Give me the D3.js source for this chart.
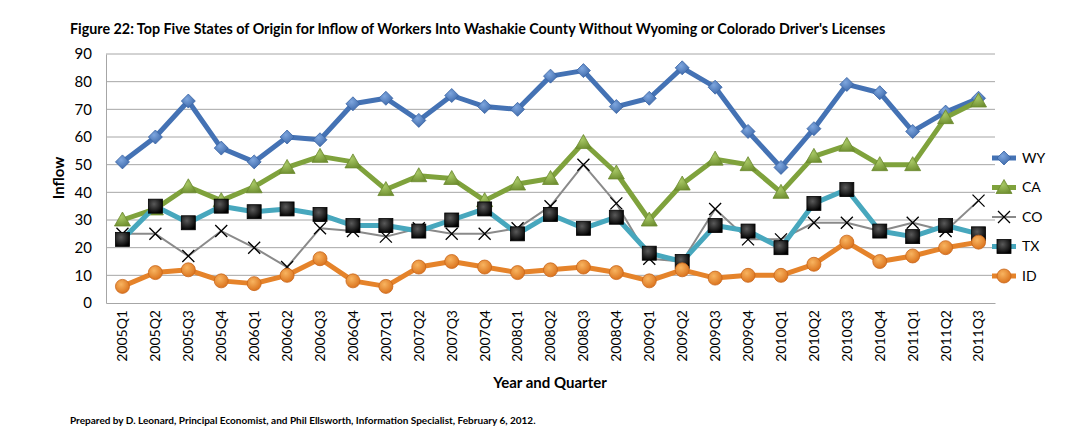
<!DOCTYPE html>
<html>
<head>
<meta charset="utf-8">
<script src="https://cdn.jsdelivr.net/npm/d3@7"></script>
<style>
  body { margin: 0; background: #fff; }
  svg { font-family: Lato, "Open Sans", sans-serif; }
</style>
</head>
<body>
<svg id="svg" width="1089" height="436"></svg>
<script>
// quarters on the x axis
const quarters = ["2005Q1","2005Q2","2005Q3","2005Q4","2006Q1","2006Q2","2006Q3","2006Q4",
  "2007Q1","2007Q2","2007Q3","2007Q4","2008Q1","2008Q2","2008Q3","2008Q4",
  "2009Q1","2009Q2","2009Q3","2009Q4","2010Q1","2010Q2","2010Q3","2010Q4",
  "2011Q1","2011Q2","2011Q3"];

// inflow per state
const wy = [51,60,73,56,51,60,59,72,74,66,75,71,70,82,84,71,74,85,78,62,49,63,79,76,62,69,74];
const ca = [30,34,42,37,42,49,53,51,41,46,45,37,43,45,58,47,30,43,52,50,40,53,57,50,50,67,73];
const co = [25,25,17,26,20,13,27,26,24,27,25,25,27,35,50,36,16,15,34,23,23,29,29,26,29,26,37];
const tx = [23,35,29,35,33,34,32,28,28,26,30,34,25,32,27,31,18,15,28,26,20,36,41,26,24,28,25];
const id = [6,11,12,8,7,10,16,8,6,13,15,13,11,12,13,11,8,12,9,10,10,14,22,15,17,20,22];

const yTicks = [0,10,20,30,40,50,60,70,80,90];

const series = [
  { name: "WY", values: wy, line: "#4472b4", width: 5, marker: "diamond" },
  { name: "CA", values: ca, line: "#7fa23c", width: 5, marker: "triangle" },
  { name: "CO", values: co, line: "#8a8a8a", width: 2, marker: "cross" },
  { name: "TX", values: tx, line: "#47a7bd", width: 5, marker: "square" },
  { name: "ID", values: id, line: "#e5832a", width: 5, marker: "circle" }
];

const svg = d3.select("#svg");
const plotLeft = 106, plotRight = 995, plotTop = 54, plotBottom = 303;

// gradients for the shiny excel markers
const defs = svg.append("defs");
function radial(idName, c0, c1) {
  const g = defs.append("radialGradient").attr("id", idName)
    .attr("cx", "40%").attr("cy", "35%").attr("r", "70%");
  g.append("stop").attr("offset", "0%").attr("stop-color", c0);
  g.append("stop").attr("offset", "100%").attr("stop-color", c1);
}
radial("gWY", "#7ea6de", "#3a66a8");
radial("gCA", "#a8c866", "#6f8f30");
radial("gTX", "#5a5a5a", "#000000");
radial("gID", "#f8b460", "#d9701a");

const x = d3.scaleBand().domain(quarters).range([plotLeft, plotRight]);
const y = d3.scaleLinear().domain([0, 90]).range([plotBottom, plotTop]);

// gridlines
svg.append("g").selectAll("line").data(yTicks.filter(d => d > 0)).enter().append("line")
  .attr("x1", plotLeft).attr("x2", plotRight)
  .attr("y1", d => y(d)).attr("y2", d => y(d))
  .attr("stroke", "#a6a6a6").attr("stroke-width", 1);

// y axis
const yAxis = svg.append("g").attr("transform", "translate(" + plotLeft + ",0)")
  .call(d3.axisLeft(y).tickValues(yTicks).tickSize(0).tickPadding(14));
yAxis.select(".domain").attr("stroke", "#a6a6a6");
yAxis.selectAll("text").attr("font-size", 15).attr("fill", "#000")
  .attr("font-family", "Lato, sans-serif");

// x axis
const xAxis = svg.append("g").attr("transform", "translate(0," + plotBottom + ")")
  .call(d3.axisBottom(x).tickSize(0).tickPadding(0));
xAxis.select(".domain").attr("stroke", "#a6a6a6");
xAxis.selectAll("text")
  .attr("font-size", 14).attr("fill", "#000").attr("font-family", "Lato, sans-serif")
  .attr("text-anchor", "end")
  .attr("dy", "0.35em")
  .attr("transform", "translate(0,7) rotate(-90)")
  .attr("x", 0).attr("y", 0);

// titles
svg.append("text").attr("x", 70).attr("y", 34)
  .attr("font-size", 14.3).attr("font-weight", "bold")
  .text("Figure 22: Top Five States of Origin for Inflow of Workers Into Washakie County Without Wyoming or Colorado Driver's Licenses");

svg.append("text").attr("transform", "translate(64,178) rotate(-90)")
  .attr("text-anchor", "middle").attr("font-size", 15).attr("font-weight", "bold")
  .text("Inflow");

svg.append("text").attr("x", 550).attr("y", 388)
  .attr("text-anchor", "middle").attr("font-size", 15).attr("font-weight", "bold")
  .text("Year and Quarter");

svg.append("text").attr("x", 70).attr("y", 424)
  .attr("font-size", 10).attr("font-weight", "bold")
  .text("Prepared by D. Leonard, Principal Economist, and Phil Ellsworth, Information Specialist, February 6, 2012.");

// marker drawing
function drawMarker(sel, s) {
  if (s.marker === "diamond") {
    sel.append("path").attr("d", "M0,-7L7,0L0,7L-7,0Z")
      .attr("fill", "url(#gWY)").attr("stroke", "#3a65a5").attr("stroke-width", 0.8);
  } else if (s.marker === "triangle") {
    sel.append("path").attr("d", "M0,-8L8,6L-8,6Z")
      .attr("fill", "url(#gCA)").attr("stroke", "#6c8a2e").attr("stroke-width", 0.8);
  } else if (s.marker === "cross") {
    sel.append("path").attr("d", "M-6,-6L6,6M-6,6L6,-6")
      .attr("stroke", "#000").attr("stroke-width", 1.3).attr("fill", "none");
  } else if (s.marker === "square") {
    sel.append("rect").attr("x", -7).attr("y", -7).attr("width", 14).attr("height", 14)
      .attr("fill", "url(#gTX)").attr("stroke", "#000").attr("stroke-width", 0.8);
  } else {
    sel.append("circle").attr("r", 7)
      .attr("fill", "url(#gID)").attr("stroke", "#c9661a").attr("stroke-width", 0.8);
  }
}

const line = d3.line().x((d, i) => x(quarters[i]) + x.bandwidth() / 2).y(d => y(d));

series.forEach(s => {
  const g = svg.append("g");
  g.append("path").datum(s.values).attr("d", line)
    .attr("fill", "none").attr("stroke", s.line).attr("stroke-width", s.width)
    .attr("stroke-linejoin", "round");
  g.selectAll(".m").data(s.values).enter().append("g")
    .attr("transform", (d, i) => "translate(" + (x(quarters[i]) + x.bandwidth() / 2) + "," + y(d) + ")")
    .each(function () { drawMarker(d3.select(this), s); });
});

// legend
const legend = svg.append("g").attr("transform", "translate(992,158)");
series.forEach((s, i) => {
  const row = legend.append("g").attr("transform", "translate(0," + (i * 29.5) + ")");
  row.append("line").attr("x1", 0).attr("x2", 24).attr("y1", 0).attr("y2", 0)
    .attr("stroke", s.line).attr("stroke-width", s.width);
  const m = row.append("g").attr("transform", "translate(12,0)");
  drawMarker(m, s);
  row.append("text").attr("x", 30).attr("y", 0).attr("dy", "0.35em")
    .attr("font-size", 14).text(s.name);
});
</script>
</body>
</html>
